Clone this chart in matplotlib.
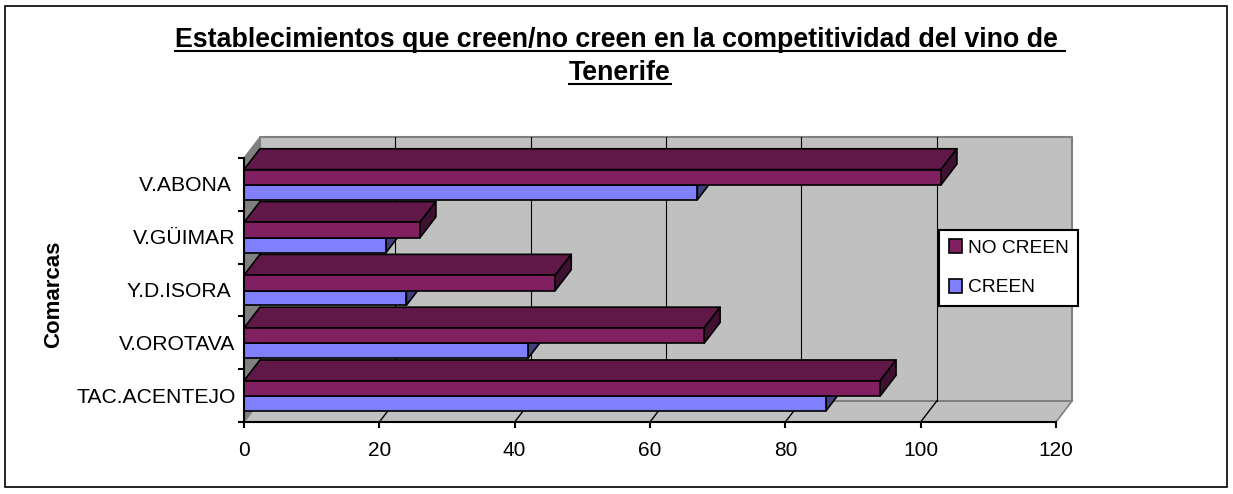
import matplotlib.pyplot as plt
from matplotlib.patches import Patch, Polygon, Rectangle

plt.rcParams['font.family'] = ['Liberation Sans', 'DejaVu Sans']

categories = ["TAC.ACENTEJO", "V.OROTAVA", "Y.D.ISORA ", "V.GÜIMAR", "V.ABONA "]
creen = [86, 42, 24, 21, 67]
no_creen = [94, 68, 46, 26, 103]
x_ticks = [0, 20, 40, 60, 80, 100, 120]
title_lines = ["Establecimientos que creen/no creen en la competitividad del vino de ", "Tenerife"]

# depth of the fake 3d box, in data units
DX = 2.36
DY = 0.395
XMAX = 120
NCAT = len(categories)

WIDTH, HEIGHT = 1233, 494


def poly(ax, pts, color, edge='k', lw=1.2, z=2):
    ax.add_patch(Polygon(pts, closed=True, facecolor=color, edgecolor=edge, linewidth=lw,
                         joinstyle='round', clip_on=False, zorder=z))


def bar3d(ax, y0, y1, val, front, top, side):
    # top and side first, the front face goes over their edges
    poly(ax, [(0, y1), (val, y1), (val + DX, y1 + DY), (DX, y1 + DY)], top)
    poly(ax, [(val, y0), (val, y1), (val + DX, y1 + DY), (val + DX, y0 + DY)], side)
    poly(ax, [(0, y0), (val, y0), (val, y1), (0, y1)], front)


fig = plt.figure(figsize=(WIDTH / 100, HEIGHT / 100), dpi=100)
fig.add_artist(Rectangle((5 / WIDTH, 1 - 487 / HEIGHT), 1222 / WIDTH, 481 / HEIGHT, transform=fig.transFigure,
                         facecolor='white', edgecolor='k', linewidth=1.2, zorder=-1))

ax = fig.add_axes([244 / WIDTH, (HEIGHT - 422) / HEIGHT, 812 / WIDTH, 264 / HEIGHT])
ax.set_xlim(0, XMAX)
ax.set_ylim(0, NCAT)
ax.patch.set_visible(False)
for name in ['top', 'right']:
    ax.spines[name].set_visible(False)
for name in ['left', 'bottom']:
    ax.spines[name].set_linewidth(1.5)
    ax.spines[name].set_zorder(5)

# walls and floor
poly(ax, [(DX, DY), (XMAX + DX, DY), (XMAX + DX, NCAT + DY), (DX, NCAT + DY)], '#C0C0C0', edge='#808080', lw=1.5, z=0)
poly(ax, [(0, 0), (DX, DY), (DX, NCAT + DY), (0, NCAT)], '#808080', edge='#808080', lw=1.0, z=0)
poly(ax, [(0, 0), (XMAX, 0), (XMAX + DX, DY), (DX, DY)], '#C0C0C0', edge='#808080', lw=1.2, z=0)

for t in x_ticks[1:-1]:
    ax.plot([t + DX, t + DX], [DY, NCAT + DY], color='k', lw=0.8, zorder=1, clip_on=False)
    ax.plot([t, t + DX], [0, DY], color='k', lw=1.0, zorder=1, clip_on=False)

# back rows first so the nearer ones cover them
for i in range(NCAT - 1, -1, -1):
    bar3d(ax, i + 0.21, i + 0.49, creen[i], '#8080FF', '#606098', '#404080')
    bar3d(ax, i + 0.49, i + 0.78, no_creen[i], '#802060', '#601848', '#401030')

ax.set_xticks(x_ticks)
ax.set_yticks(range(NCAT + 1))
ax.set_yticklabels([])
ax.set_yticks([i + 0.51 for i in range(NCAT)], categories, minor=True)
ax.tick_params(axis='both', which='major', direction='out', length=4.5, width=1.5, labelsize=15, pad=9.5)
ax.tick_params(axis='y', which='minor', length=0, labelsize=15.2, pad=6)

fig.text(54 / WIDTH, 1 - 294 / HEIGHT, "Comarcas", rotation=90, ha='center', va='center',
         fontsize=16, fontweight='bold')

handles = [Patch(facecolor='#802060', edgecolor='k', linewidth=1.2, label='NO CREEN'),
           Patch(facecolor='#8080FF', edgecolor='k', linewidth=1.2, label='CREEN')]
leg = ax.legend(handles=handles, loc='lower left', bbox_to_anchor=(939 / WIDTH, 1 - 306 / HEIGHT),
                bbox_transform=fig.transFigure, fontsize=13.8, frameon=True, fancybox=False, framealpha=1,
                edgecolor='k', borderaxespad=0, handlelength=0.72, handleheight=0.72, handletextpad=0.3,
                labelspacing=1.15, borderpad=0.5)
leg.get_frame().set_linewidth(1.5)
leg.set_zorder(6)

# bold title, underlined by hand as text has no underline option
renderer = fig.canvas.get_renderer()
for line, ypx in zip(title_lines, [40, 73]):
    txt = fig.text(620 / WIDTH, 1 - ypx / HEIGHT, line, ha='center', va='center', fontsize=19.3, fontweight='bold')
    box = txt.get_window_extent(renderer)
    yline = 1 - (ypx + 11.5) / HEIGHT
    fig.add_artist(plt.Line2D([box.x0 / WIDTH, box.x1 / WIDTH], [yline, yline], color='k', lw=1.5))

fig.savefig("out.png", dpi=100)
